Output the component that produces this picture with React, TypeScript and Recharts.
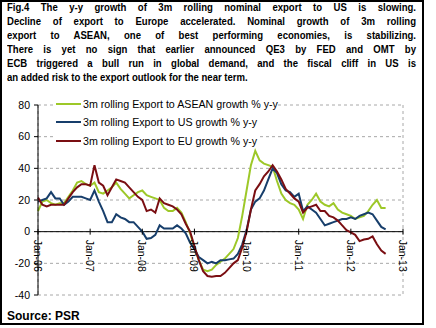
import {
  LineChart,
  Line,
  XAxis,
  YAxis,
  CartesianGrid,
  ReferenceLine,
  ReferenceDot,
} from "recharts";

// Monthly y-y growth (%), Jan-06 .. Sep-12
const asean = [
  13, 19, 20, 18, 17, 18, 18, 22, 26, 31, 32, 30,
  29, 31, 25, 24, 26, 28, 31, 27, 24, 21, 23, 25,
  26, 23, 22, 21, 20, 15, 13, 13, 15, 12, 6, -1,
  -10, -18, -24, -25, -24, -21, -19, -17, -14, -11, -4, 10,
  26, 42, 51, 45, 43, 42, 41, 32, 24, 20, 18, 17,
  14, 8, 17, 20, 24, 19, 17, 16, 18, 14, 12, 11,
  10, 8, 9, 10, 13, 17, 20, 15, 15,
];
const us = [
  19, 20, 21, 25, 21, 21, 17, 19, 22, 22, 22, 21,
  20, 26, 19, 13, 6, 6, 11, 9, 8, 6, 6, 3,
  0, -4.5, -4, -2, 4, 2, 2, 2, 4, 2, -1, -7,
  -11, -16, -18, -20, -19, -20, -18, -18, -17.5, -17, -14, -8,
  1, 14, 19, 21, 26, 33, 40, 37, 30, 26, 25, 22,
  24, 13, 16, 14, 12, 8, 4, 5, 6, 7, 8, 8,
  9, 8, 10, 11, 12, 11, 7, 3, 1.5,
];
const eu = [
  21.5, 17, 16, 17, 17, 17, 17, 21, 25, 28, 30, 30,
  29, 42, 31, 29, 23, 28, 33, 32, 31, 28, 25, 22,
  20, 13, 14, 12, 21, 18, 17, 16, 14, 11, 5, 0,
  -9, -18, -25, -28, -28.5, -28, -28, -26, -23, -20, -18, -10,
  0, 14, 26, 30, 35, 38, 42, 38, 33, 27, 24, 21,
  19, 12, 15, 16, 17, 13, 13, 10, 9, 7, 4, 1,
  -0.5, -2, -6, -5, -4.5, -3, -8, -12, -14,
];

const yearTicks = [0, 12, 24, 36, 48, 60, 72, 84];
const yearLabels = ["Jan-06", "Jan-07", "Jan-08", "Jan-09", "Jan-10", "Jan-11", "Jan-12", "Jan-13"];
const yTicks = [-40, -20, 0, 20, 40, 60, 80];

const titleLines = [
  "Fig.4 The y-y growth of 3m rolling nominal export to US is slowing.",
  "Decline of export to Europe accelerated. Nominal growth of 3m rolling",
  "export to ASEAN, one of best performing economies, is stabilizing.",
  "There is yet no sign that earlier announced QE3 by FED and OMT by",
  "ECB triggered a bull run in global demand, and the fiscal cliff in US is",
  "an added risk to the export outlook for the near term.",
];

const SERIES = [
  { key: "asean", name: "3m rolling Export to ASEAN growth % y-y", color: "#9DC828" },
  { key: "us", name: "3m rolling Export to US growth % y-y", color: "#173E6B" },
  { key: "eu", name: "3m rolling Export to EU growth % y-y", color: "#7A0E12" },
];

const data = asean.map((v, i) => ({ m: i, asean: v, us: us[i], eu: eu[i] }));

// title glyphs in the source are narrow, squeeze them horizontally
const TITLE_SQUEEZE = 0.825;

const yearTick = (label: string) => (props: any) => {
  const { cx, cy } = props;
  return (
    <g>
      <line x1={cx} y1={cy - 3} x2={cx} y2={cy + 3} stroke="#000" />
      <text
        transform={`translate(${cx}, ${cy + 8}) rotate(90)`}
        textAnchor="start"
        dominantBaseline="central"
        fontSize={10.5}
        fill="#000"
        fontFamily="'Liberation Sans', Arial, sans-serif"
      >
        {label}
      </text>
    </g>
  );
};

export default function App() {
  return (
    <div
      style={{
        position: "absolute",
        left: 0,
        top: 0,
        width: 436,
        height: 328,
        background: "#fff",
        fontFamily: "'Liberation Sans', Arial, sans-serif",
      }}
    >
      <div
        style={{
          position: "absolute",
          left: 0,
          top: 0,
          width: 424,
          height: 325,
          border: "2px solid #000",
          boxSizing: "border-box",
        }}
      />
      <div
        style={{
          position: "absolute",
          left: 7,
          top: 0,
          width: 409 / TITLE_SQUEEZE,
          transform: `scaleX(${TITLE_SQUEEZE})`,
          transformOrigin: "left top",
        }}
      >
        {titleLines.map((t, i) => (
          <div
            key={i}
            style={{
              fontWeight: "bold",
              fontSize: 11.6,
              lineHeight: "14px",
              whiteSpace: "nowrap",
              textAlign: i < titleLines.length - 1 ? "justify" : "left",
              textAlignLast: i < titleLines.length - 1 ? "justify" : "left",
            }}
          >
            {t}
          </div>
        ))}
      </div>

      <div style={{ position: "absolute", left: 0, top: 0 }}>
        <LineChart width={436} height={328} data={data} margin={{ top: 105, right: 33, bottom: 33, left: 8 }}>
          <CartesianGrid stroke="#a8a8a8" strokeDasharray="3 3" />
          <XAxis
            dataKey="m"
            type="number"
            domain={[0, 84]}
            ticks={yearTicks}
            height={0}
            tick={false}
            axisLine={false}
            tickLine={false}
          />
          <YAxis
            type="number"
            domain={[-40, 80]}
            ticks={yTicks}
            width={30}
            axisLine={{ stroke: "#000" }}
            tickLine={{ stroke: "#000" }}
            tickSize={4}
            tickMargin={4}
            tick={{ fontSize: 10.5, fill: "#000" }}
          />
          <ReferenceLine y={0} stroke="#000" />
          {yearTicks.map((t, i) => (
            <ReferenceDot key={t} x={t} y={0} r={0} shape={yearTick(yearLabels[i])} />
          ))}
          {SERIES.map((s) => (
            <Line
              key={s.key}
              type="linear"
              dataKey={s.key}
              stroke={s.color}
              strokeWidth={2}
              dot={false}
              isAnimationActive={false}
            />
          ))}
        </LineChart>
      </div>

      {/* legend: each entry has its own white box */}
      {SERIES.map((s, i) => (
        <div
          key={s.key}
          style={{
            position: "absolute",
            left: 56,
            top: 97 + i * 18.5,
            height: 13,
            display: "flex",
            alignItems: "center",
            background: "#fff",
            fontSize: 10.67,
            color: "#000",
            whiteSpace: "nowrap",
          }}
        >
          <span style={{ display: "inline-block", width: 25, height: 2, background: s.color, marginRight: 2 }} />
          <span>{s.name}</span>
        </div>
      ))}

      <div
        style={{
          position: "absolute",
          left: 7,
          top: 309,
          fontWeight: "bold",
          fontSize: 12,
          lineHeight: "14px",
        }}
      >
        Source: PSR
      </div>
    </div>
  );
}
